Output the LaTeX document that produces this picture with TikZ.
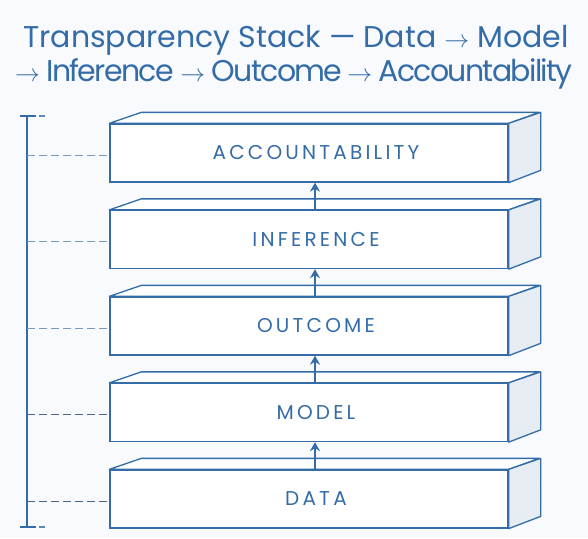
\documentclass[tikz,border=0pt]{standalone}
\usepackage{fontspec}
\setmainfont{Poppins}
\usetikzlibrary{arrows.meta,patterns}

\definecolor{stackblue}{RGB}{52,108,168}
\definecolor{dashblue}{RGB}{120,155,195}
\definecolor{dashdark}{RGB}{75,100,135}
\definecolor{sidefill}{RGB}{234,239,246}
\definecolor{paper}{RGB}{248,250,253}

\begin{document}
\begin{tikzpicture}[x=1pt,y=-1pt]
\tikzstyle{every node}=[inner sep=0pt]
\tikzstyle{layer}=[draw=stackblue, line width=1.3pt, fill=white, minimum width=398pt, minimum height=58pt, text=stackblue, font=\fontsize{20}{20}\selectfont\addfontfeature{LetterSpace=16}]
\tikzstyle{face}=[draw=stackblue, line width=1.3pt, line join=round]
\tikzstyle{guide}=[line width=1pt, dash pattern=on 8pt off 4pt]
\tikzstyle{title}=[text=stackblue, anchor=base, font=\fontsize{30}{30}\selectfont]

\fill[paper] (0,0) rectangle (588,538);
\useasboundingbox (0,0) rectangle (588,538);

% title
\node[title] (title1) at (296,47) {Transparency Stack --- Data $\rightarrow$ Model};
\node[title] (title2) at (294,81) {\addfontfeature{LetterSpace=-5.5}$\rightarrow$ Inference $\rightarrow$ Outcome\,$\rightarrow$ Accountability};

% layers, bottom to top
\foreach \name/\txt/\y in {dat/DATA/499, mod/MODEL/412.5, out/OUTCOME/326, inf/INFERENCE/239.5, acc/ACCOUNTABILITY/153} {
  \node[layer] (\name) at (309,\y) {\hspace*{14pt}\txt};
  \draw[face, fill=white] (\name.north west) -- ++(32,-11) -- ++(398,0) -- (\name.north east) -- cycle;
  \fill[sidefill] (\name.north east) -- ++(32,-11) -- ++(0,58) -- (\name.south east) -- cycle;
  \fill[pattern=north east lines, pattern color=stackblue!15] (\name.north east) -- ++(32,-11) -- ++(0,58) -- (\name.south east) -- cycle;
  \draw[face] (\name.north east) -- ++(32,-11) -- ++(0,58) -- (\name.south east) -- cycle;
}

% arrows
\draw[stackblue, line width=1.6pt, -{Stealth[length=9pt,width=10pt]}] ([xshift=6pt]dat.north) -- ([xshift=6pt]mod.south);
\draw[stackblue, line width=1.6pt, -{Stealth[length=9pt,width=10pt]}] ([xshift=6pt]mod.north) -- ([xshift=6pt]out.south);
\draw[stackblue, line width=1.6pt, -{Stealth[length=9pt,width=10pt]}] ([xshift=6pt]out.north) -- ([xshift=6pt]inf.south);
\draw[stackblue, line width=1.6pt, -{Stealth[length=9pt,width=10pt]}] ([xshift=6pt]inf.north) -- ([xshift=6pt]acc.south);

% axis
\coordinate (axtop) at (27,116);
\coordinate (axbot) at (27,527);
\draw[stackblue, line width=1.3pt] (axtop) -- (axbot);
\draw[stackblue, line width=1.3pt] ([xshift=-7pt]axtop) -- ([xshift=9pt]axtop);
\draw[stackblue, line width=1.3pt] ([xshift=-7pt]axbot) -- ([xshift=9pt]axbot);
\draw[stackblue!80, line width=1.2pt] ([xshift=12pt]axtop) -- ([xshift=18pt]axtop);
\draw[stackblue!80, line width=1.2pt] ([xshift=12pt]axbot) -- ([xshift=18pt]axbot);
\foreach \name in {acc,inf,out}
  \draw[guide, dashblue] ([yshift=-2pt]\name.west -| axtop) -- ([yshift=-2pt]\name.west);
\foreach \name in {mod,dat}
  \draw[guide, dashdark] ([yshift=-2pt]\name.west -| axtop) -- ([yshift=-2pt]\name.west);
\end{tikzpicture}
\end{document}
